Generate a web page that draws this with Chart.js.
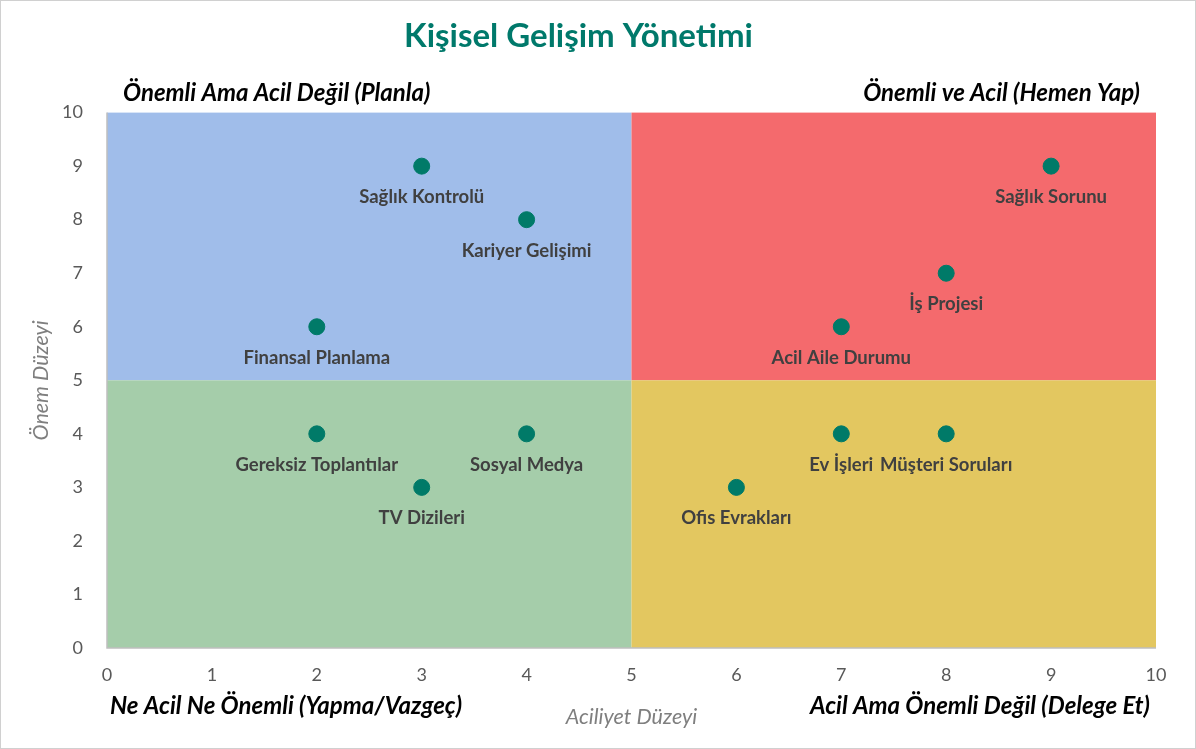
<!DOCTYPE html>
<html>
<head>
<meta charset="utf-8">
<script src="https://cdn.jsdelivr.net/npm/chart.js@4/dist/chart.umd.min.js"></script>
<style>
  html, body { margin: 0; padding: 0; background: #fff; }
  #wrap { width: 1196px; height: 749px; box-sizing: border-box; border: 1px solid #d0d0d0; }
</style>
</head>
<body>
<div id="wrap"><canvas id="chart" width="1194" height="747"></canvas></div>
<script>
const taskNames = [
  'Sağlık Kontrolü', 'Kariyer Gelişimi', 'Finansal Planlama',
  'Sağlık Sorunu', 'İş Projesi', 'Acil Aile Durumu',
  'Gereksiz Toplantılar', 'Sosyal Medya', 'TV Dizileri',
  'Ev İşleri', 'Müşteri Soruları', 'Ofis Evrakları'
];
const urgency = [3, 4, 2, 9, 8, 7, 2, 4, 3, 7, 8, 6];
const importance = [9, 8, 6, 9, 7, 6, 4, 4, 3, 4, 4, 3];
const axisTicks = [0, 1, 2, 3, 4, 5, 6, 7, 8, 9, 10];

// quadrants: [xMin, xMax, yMin, yMax, colour]
const quadrants = [
  [0, 5, 5, 10, '#a0bdea'],
  [5, 10, 5, 10, '#f46a6d'],
  [0, 5, 0, 5, '#a5cdaa'],
  [5, 10, 0, 5, '#e3c760']
];

const points = urgency.map((x, i) => ({ x: x, y: importance[i] }));

const quadrantPlugin = {
  id: 'quadrants',
  beforeDatasetsDraw(chart) {
    const { ctx, scales: { x, y } } = chart;
    ctx.save();
    quadrants.forEach(q => {
      const left = x.getPixelForValue(q[0]);
      const right = x.getPixelForValue(q[1]);
      const top = y.getPixelForValue(q[3]);
      const bottom = y.getPixelForValue(q[2]);
      ctx.fillStyle = q[4];
      ctx.fillRect(left, top, right - left, bottom - top);
    });
    // axis lines
    ctx.strokeStyle = '#bfbfbf';
    ctx.lineWidth = 1.5;
    ctx.beginPath();
    ctx.moveTo(x.left, y.top);
    ctx.lineTo(x.left, y.bottom);
    ctx.lineTo(x.right, y.bottom);
    ctx.stroke();
    ctx.restore();
  },
  afterDatasetsDraw(chart) {
    const { ctx, chartArea } = chart;
    const meta = chart.getDatasetMeta(0);
    ctx.save();
    ctx.font = 'bold 18.5px Lato';
    ctx.fillStyle = '#404040';
    ctx.textAlign = 'center';
    ctx.textBaseline = 'middle';
    meta.data.forEach((pt, i) => {
      ctx.fillText(taskNames[i], pt.x, pt.y + 31);
    });

    // quadrant captions
    ctx.font = 'italic bold 24px Lato';
    ctx.fillStyle = '#000';
    ctx.textAlign = 'left';
    ctx.fillText('Önemli Ama Acil Değil (Planla)', chartArea.left + 16, chartArea.top - 19);
    ctx.fillText('Ne Acil Ne Önemli (Yapma/Vazgeç)', chartArea.left + 3, chartArea.bottom + 58);
    ctx.textAlign = 'right';
    ctx.fillText('Önemli ve Acil (Hemen Yap)', chartArea.right - 16, chartArea.top - 19);
    ctx.fillText('Acil Ama Önemli Değil (Delege Et)', chartArea.right - 6, chartArea.bottom + 58);

    // axis titles
    ctx.font = 'italic 21.5px Lato';
    ctx.fillStyle = '#7f7f7f';
    ctx.textAlign = 'center';
    ctx.fillText('Aciliyet Düzeyi', (chartArea.left + chartArea.right) / 2, chartArea.bottom + 69);
    ctx.translate(40, (chartArea.top + chartArea.bottom) / 2);
    ctx.rotate(-Math.PI / 2);
    ctx.fillText('Önem Düzeyi', 0, 0);
    ctx.restore();
  }
};

new Chart(document.getElementById('chart'), {
  type: 'scatter',
  data: {
    datasets: [{
      label: 'Görevler',
      data: points,
      backgroundColor: '#007a68',
      borderColor: '#007a68',
      pointRadius: 8,
      pointHoverRadius: 8
    }]
  },
  options: {
    responsive: false,
    animation: false,
    layout: { padding: { top: 0, right: 39, bottom: 0, left: 0 } },
    plugins: {
      legend: { display: false },
      tooltip: { enabled: false },
      title: {
        display: true,
        text: 'Kişisel Gelişim Yönetimi',
        color: '#00796b',
        font: { family: 'Lato', size: 33, weight: 'bold', lineHeight: 1.2 },
        padding: { top: 16, bottom: 56 }
      }
    },
    scales: {
      x: {
        type: 'linear',
        min: 0,
        max: 10,
        afterBuildTicks: s => { s.ticks = axisTicks.map(v => ({ value: v })); },
        afterFit: s => { s.height = 100; },
        grid: { display: false },
        border: { display: false },
        ticks: { color: '#595959', font: { family: 'Lato', size: 18 }, padding: 8 }
      },
      y: {
        type: 'linear',
        min: 0,
        max: 10,
        afterBuildTicks: s => { s.ticks = axisTicks.map(v => ({ value: v })); },
        afterFit: s => { s.width = 106; },
        grid: { display: false },
        border: { display: false },
        ticks: { color: '#595959', font: { family: 'Lato', size: 18 }, padding: 16 }
      }
    }
  },
  plugins: [quadrantPlugin]
});
</script>
</body>
</html>
